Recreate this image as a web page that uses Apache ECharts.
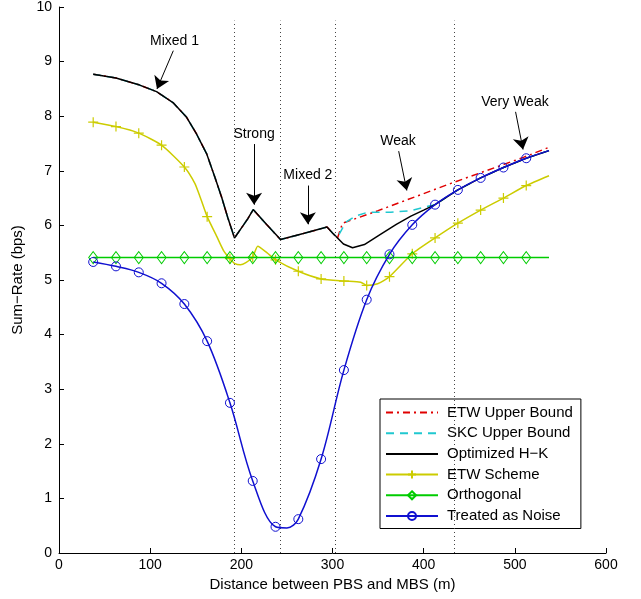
<!DOCTYPE html>
<html>
<head>
<meta charset="utf-8">
<script src="https://cdn.jsdelivr.net/npm/echarts@6/dist/echarts.min.js"></script>
<style>
  html, body { margin: 0; padding: 0; background: #fff; }
  #main { width: 641px; height: 599px; }
</style>
</head>
<body>
<div id="main"></div>
<script>
var legendNames = ['ETW Upper Bound', 'SKC Upper Bound', 'Optimized H\u2212K', 'ETW Scheme', 'Orthogonal', 'Treated as Noise'];

// x positions that carry a marker
var markX = [37.5, 62.5, 87.5, 112.5, 137.5, 162.5, 187.5, 212.5, 237.5, 262.5, 287.5, 312.5, 337.5, 362.5, 387.5, 412.5, 437.5, 462.5, 487.5, 512.5];

var etwUbPts = [[37.5,8.77],[62.5,8.70],[88.5,8.57],[107,8.45],[125,8.25],[140,7.98],[151,7.67],[162,7.31],[171,6.88],[178.5,6.51],[185,6.15],[192.5,5.77],[200,5.95],[207,6.12],[213,6.29],[228,6.01],[243,5.74],[268,5.85],[294,5.97],[300,5.86],[305.5,5.77],[311,6.04],[350,6.27],[390,6.52],[430,6.77],[470,7.01],[510,7.25],[537.5,7.43]];

var skcUbPts = [[37.5,8.77],[62.5,8.70],[88.5,8.57],[107,8.45],[125,8.25],[140,7.98],[151,7.67],[162,7.31],[171,6.88],[178.5,6.51],[185,6.15],[192.5,5.77],[200,5.95],[207,6.12],[213,6.29],[228,6.01],[243,5.74],[268,5.85],[294,5.97],[300,5.86],[305.5,5.77],[308,5.86],[314.6,6.06],[325,6.17],[338.5,6.24],[364,6.24],[386,6.27],[404.6,6.35],[412.5,6.38],[437.5,6.65],[462.5,6.87],[487.5,7.06],[512.5,7.23],[537.5,7.37]];

var hkPts = [[37.5,8.77],[62.5,8.70],[88.5,8.57],[107,8.45],[125,8.25],[140,7.98],[151,7.67],[162,7.31],[171,6.88],[178.5,6.51],[185,6.15],[192.5,5.77],[200,5.95],[207,6.12],[213,6.29],[228,6.01],[243,5.74],[268,5.85],[294,5.97],[300,5.86],[305.5,5.77],[312,5.66],[322,5.59],[335,5.65],[353,5.84],[370,6.02],[386,6.17],[400,6.28],[412.5,6.38],[437.5,6.65],[462.5,6.87],[487.5,7.06],[512.5,7.23],[537.5,7.37]];

var etwPts = [[37.5,7.89],[62.5,7.81],[87.5,7.69],[112.5,7.47],[137.5,7.07],[149,6.77],[155,6.51],[162.5,6.16],[173,5.80],[180.5,5.54],[187.5,5.39],[193,5.30],[199,5.28],[205,5.32],[212.5,5.42],[218,5.62],[228,5.50],[237.5,5.37],[262.5,5.16],[287.5,5.02],[312.5,4.98],[331,4.96],[337.5,4.90],[349.5,4.93],[362.5,5.06],[387.5,5.48],[412.5,5.77],[437.5,6.04],[462.5,6.28],[487.5,6.50],[512.5,6.73],[537.5,6.91]];

var orthPts = [[37.5,5.41],[62.5,5.41],[87.5,5.41],[112.5,5.41],[137.5,5.41],[162.5,5.41],[187.5,5.41],[212.5,5.41],[237.5,5.41],[262.5,5.41],[287.5,5.41],[312.5,5.41],[337.5,5.41],[362.5,5.41],[387.5,5.41],[412.5,5.41],[437.5,5.41],[462.5,5.41],[487.5,5.41],[512.5,5.41],[537.5,5.41]];

var noisePts = [[37.5,5.33],[62.5,5.25],[87.5,5.14],[112.5,4.94],[137.5,4.56],[162.5,3.88],[187.5,2.75],[212.5,1.32],[237.5,0.48],[250,0.46],[262.5,0.62],[287.5,1.72],[312.5,3.35],[337.5,4.64],[362.5,5.47],[387.5,6.01],[412.5,6.38],[437.5,6.65],[462.5,6.87],[487.5,7.06],[512.5,7.23],[537.5,7.37]];

// region borders (dotted)
var regionX = [192, 243, 303, 434];
// annotations: label, arrow start, arrow tip
var notes = [
  ['Mixed 1', [125.4, 9.2], [107.5, 8.5]],
  ['Strong', [214, 7.49], [214, 6.38]],
  ['Mixed 2', [273, 6.73], [273, 6.02]],
  ['Weak', [372.6, 7.36], [381.5, 6.64]],
  ['Very Weak', [500.8, 8.08], [509, 7.39]]
];

var font = 'Liberation Sans';

function build(pts) {
  return pts.map(function (p) {
    if (markX.indexOf(p[0]) >= 0) return { value: p };
    return { value: p, symbol: 'none' };
  });
}

var chart = echarts.init(document.getElementById('main'));

var option = {
  animation: false,
  backgroundColor: '#fff',
  textStyle: { fontFamily: font },
  grid: { left: 59, right: 35, top: 6, bottom: 46 },
  legend: {
    // the three bound / H-K lines have no marker
    data: legendNames.map(function (n, i) {
      return i < 3 ? { name: n, itemStyle: { opacity: 0 } } : { name: n };
    }),
    orient: 'vertical',
    left: 380,
    top: 399,
    itemWidth: 52,
    itemHeight: 10,
    itemGap: 5.7,
    padding: [6, 8, 5, 5],
    backgroundColor: '#fff',
    borderColor: '#000',
    borderWidth: 1,
    textStyle: { fontSize: 15, lineHeight: 15, color: '#000', fontFamily: font, padding: [0, 0, 0, 4] }
  },
  xAxis: {
    type: 'value',
    min: 0, max: 600, interval: 100,
    name: 'Distance between PBS and MBS (m)',
    nameLocation: 'middle',
    nameGap: 20,
    nameTextStyle: { fontSize: 15, color: '#000', fontFamily: font },
    axisLine: { lineStyle: { color: '#000', width: 1 } },
    axisTick: { inside: true, length: 5, lineStyle: { color: '#000' } },
    axisLabel: { fontSize: 14, color: '#000', margin: 5 },
    splitLine: { show: false }
  },
  yAxis: {
    type: 'value',
    min: 0, max: 10, interval: 1,
    name: 'Sum\u2212Rate (bps)',
    nameLocation: 'middle',
    nameGap: 31,
    nameTextStyle: { fontSize: 15, color: '#000', fontFamily: font },
    axisLine: { lineStyle: { color: '#000', width: 1 } },
    axisTick: { inside: true, length: 5, lineStyle: { color: '#000' } },
    axisLabel: { fontSize: 14, color: '#000', margin: 7 },
    splitLine: { show: false }
  },
  series: [
    {
      name: 'regions',
      type: 'line',
      data: [],
      silent: true,
      markLine: {
        silent: true,
        symbol: 'none',
        label: { show: false },
        lineStyle: { color: '#444', width: 1, type: [1, 3] },
        data: regionX.map(function (x) { return [{ coord: [x, 0] }, { coord: [x, 9.75] }]; })
      }
    },
    {
      name: legendNames[0],
      type: 'line',
      data: etwUbPts,
      symbol: 'none',
      color: '#e00000',
      lineStyle: { color: '#e00000', width: 1.5, type: [7, 4, 2, 4] },
      z: 2
    },
    {
      name: legendNames[1],
      type: 'line',
      data: skcUbPts,
      symbol: 'none',
      color: '#20c8d0',
      lineStyle: { color: '#20c8d0', width: 1.5, type: [8, 6] },
      z: 3
    },
    {
      name: legendNames[2],
      type: 'line',
      data: hkPts,
      symbol: 'none',
      color: '#000',
      lineStyle: { color: '#000', width: 1.5 },
      z: 4
    },
    {
      name: legendNames[3],
      type: 'line',
      data: build(etwPts),
      smooth: 0.2,
      symbol: 'path://M5,0 L5,10 M0,5 L10,5',
      symbolSize: 10,
      color: '#cccc00',
      itemStyle: { color: '#cccc00', borderColor: '#cccc00', borderWidth: 1.2 },
      lineStyle: { color: '#cccc00', width: 1.5 },
      z: 5
    },
    {
      name: legendNames[4],
      type: 'line',
      data: build(orthPts),
      symbol: 'diamond',
      symbolSize: [9, 12],
      color: '#00cc00',
      itemStyle: { color: 'rgba(0,0,0,0)', borderColor: '#00cc00', borderWidth: 1 },
      lineStyle: { color: '#00cc00', width: 1.5 },
      z: 6
    },
    {
      name: legendNames[5],
      type: 'line',
      data: build(noisePts),
      smooth: 0.35,
      symbol: 'circle',
      symbolSize: 9,
      color: '#1010d0',
      itemStyle: { color: 'rgba(0,0,0,0)', borderColor: '#1010d0', borderWidth: 1 },
      lineStyle: { color: '#1010d0', width: 1.5 },
      z: 7
    },
    {
      name: 'notes',
      type: 'line',
      data: [],
      silent: true,
      z: 8,
      markLine: {
        silent: true,
        symbol: ['none', 'arrow'],
        symbolSize: 12,
        lineStyle: { color: '#000', width: 1, type: 'solid' },
        label: {
          show: true,
          position: 'start',
          distance: 3,
          formatter: '{b}',
          color: '#000',
          fontSize: 14,
          fontFamily: font
        },
        data: notes.map(function (n) {
          return [{ name: n[0], coord: n[1] }, { coord: n[2] }];
        })
      }
    }
  ]
};

chart.setOption(option);
</script>
</body>
</html>
